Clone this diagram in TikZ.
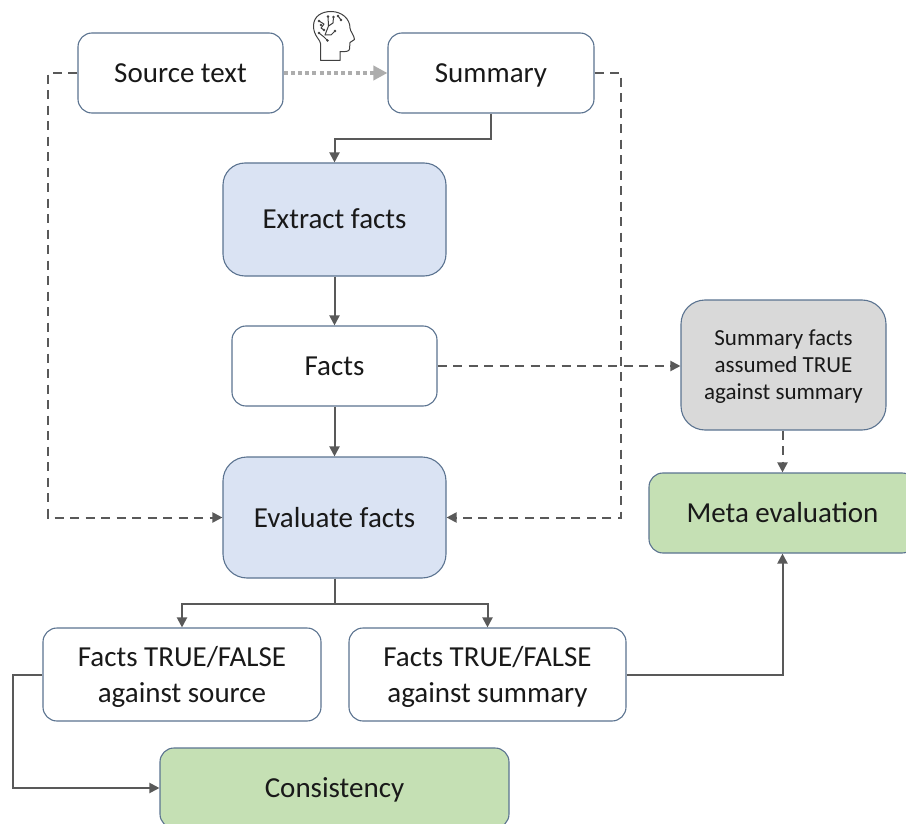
\documentclass[tikz,border=0pt]{standalone}
\usepackage{fontspec}
\setmainfont{Carlito}
\usetikzlibrary{arrows.meta,calc}
\definecolor{edgeblue}{HTML}{5B7390}
\definecolor{linegray}{HTML}{595959}
\definecolor{dotgray}{HTML}{ADADAD}
\definecolor{bluefill}{HTML}{DAE3F3}
\definecolor{greenfill}{HTML}{C5E0B4}
\definecolor{grayfill}{HTML}{D9D9D9}
\tikzset{
  box/.style={draw=edgeblue,line width=1.1pt,rounded corners=#1,fill=white,inner sep=0pt,align=center,font=\fontsize{29}{36}\selectfont,text=black!90},
  box/.default=14pt,
  oneline/.style={text height=19pt,text depth=0pt},
  conn/.style={draw=linegray,line width=2pt,-{Triangle[length=10pt,width=10pt]}},
  dconn/.style={conn,dash pattern=on 9pt off 6.5pt},
}
\begin{document}
\begin{tikzpicture}[x=1pt,y=-1pt]
\useasboundingbox (0,0) rectangle (906,824);
\clip (0,0) rectangle (906,824);
\node[box,oneline,minimum width=205pt,minimum height=80pt] (src) at (180.5,73) {Source text};
\node[box,oneline,minimum width=206pt,minimum height=80pt] (sum) at (491,73) {Summary};
\node[box=22pt,oneline,fill=bluefill,minimum width=223pt,minimum height=113pt] (ext) at (334.5,219.5) {Extract facts};
\node[box,oneline,minimum width=205pt,minimum height=80pt] (facts) at (334.5,366) {Facts};
\node[box=24pt,oneline,fill=bluefill,minimum width=223pt,minimum height=121pt] (eval) at (334.5,517.5) {Evaluate facts};
\node[box=24pt,fill=grayfill,minimum width=205pt,minimum height=130pt,font=\fontsize{23}{27}\selectfont] (gray) at (783.5,365) {\rule{0pt}{18pt}Summary facts\\assumed TRUE\\against summary};
\node[box,oneline,fill=greenfill,minimum width=267pt,minimum height=80pt] (meta) at (782.5,513) {Meta evaluation};
\node[box,minimum width=278pt,minimum height=93pt] (tfsrc) at (182,674.5) {\rule{0pt}{24pt}Facts TRUE/FALSE\\against source};
\node[box,minimum width=277pt,minimum height=93pt] (tfsum) at (487.5,674.5) {\rule{0pt}{24pt}Facts TRUE/FALSE\\against summary};
\node[box,oneline,fill=greenfill,minimum width=349pt,minimum height=80pt] (cons) at (334.5,788) {Consistency};

\coordinate (ll) at (48,73);
\coordinate (rr) at (621,73);
\coordinate (farleft) at (13,674.5);
\draw[conn,draw=dotgray,line width=3.5pt,dash pattern=on 4pt off 3.2pt,-{Triangle[length=14pt,width=14pt]}] (src.east) -- (sum.west);
\draw[conn] (sum.south) -- ++(0,25) -| (ext.north);
\draw[conn] (ext.south) -- (facts.north);
\draw[conn] (facts.south) -- (eval.north);
\draw[dconn] (src.west) -- (ll) |- (eval.west);
\draw[dconn] (sum.east) -- (rr) |- (eval.east);
\draw[dconn] (facts.east) -- (gray.west |- facts.east);
\draw[dconn] (gray.south -| meta.north) -- (meta.north);
\draw[conn] (eval.south) -- ++(0,25) -| (tfsrc.north);
\draw[conn] (eval.south) -- ++(0,25) -| (tfsum.north);
\draw[conn] (tfsrc.west) -- (farleft) |- (cons.west);
\draw[conn] (tfsum.east) -| (meta.south);

% brain-head icon
\begin{scope}[draw=black!75,line width=1pt,line cap=round,line join=round]
\draw (320.7,60.5) -- (320.7,44)
  .. controls (320.7,40) and (313.5,36) .. (313.5,26)
  .. controls (313.5,16) and (322,11.5) .. (331,11.5)
  .. controls (342,11.5) and (350,19) .. (350,28)
  .. controls (350,31) and (354.5,36) .. (354.5,39.5)
  -- (350,42.5) -- (349.5,49)
  .. controls (349.5,51.5) and (345,52) .. (340,51.5)
  -- (340,60.5) -- cycle;
\draw (328,16.5) -- (328.5,26) -- (325,35);
\draw (328.5,26) -- (333,23) -- (333.5,17);
\draw (319,21) -- (324,24) -- (321,28) -- (324,30);
\draw (319,33) -- (324,37) -- (327.5,40.5);
\draw (325,35) -- (331,35) -- (335,31);
\draw (338,16) -- (341,20);
\foreach \p in {(328,16.5),(333.5,17),(319,21),(319,33),(327.5,40.5),(335,31),(338,16),(341,20),(324,30),(321,25)}
  \fill[black!75] \p circle (1.3pt);
\end{scope}
\end{tikzpicture}
\end{document}
